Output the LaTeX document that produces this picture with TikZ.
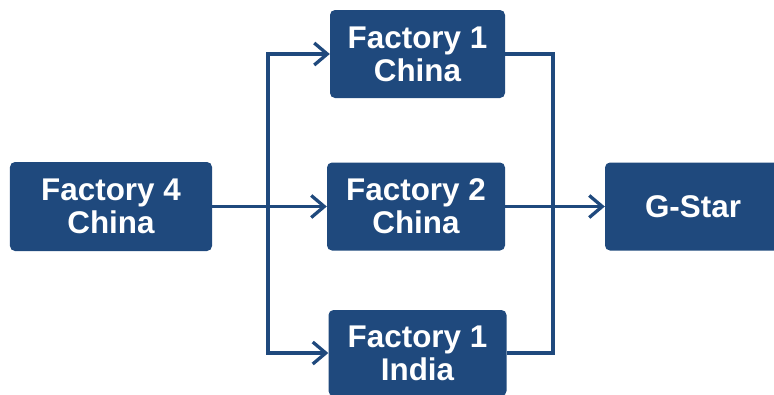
\documentclass[tikz,border=0pt]{standalone}
\usepackage{fontspec}
\setmainfont{Liberation Sans}
\usetikzlibrary{arrows.meta}
\definecolor{boxblue}{RGB}{31,73,125}
\begin{document}
\begin{tikzpicture}[x=1bp,y=-1bp,
  fbox/.style={fill=boxblue, draw=none, rounded corners=5bp, text=white,
    font=\bfseries\fontsize{31.5}{33}\selectfont, align=center, inner sep=0pt},
  conn/.style={draw=boxblue, line width=3.3bp},
  arr/.style={conn, -{Straight Barb[length=13bp,width=22bp]}}]
\useasboundingbox (0,0) rectangle (774,394);
\node[fbox, minimum width=202bp, minimum height=89bp] (f4) at (111,206.5) {Factory 4\\China};
\node[fbox, minimum width=175bp, minimum height=88bp] (f1c) at (417.5,54) {Factory 1\\China};
\node[fbox, minimum width=178bp, minimum height=88bp] (f2c) at (416,206.5) {Factory 2\\China};
\node[fbox, minimum width=178bp, minimum height=86bp] (f1i) at (417.5,353) {Factory 1\\India};
\node[fbox, minimum width=176bp, minimum height=88bp] (gs) at (693,206.5) {G-Star};
\coordinate (jl) at (268,206.5);
\coordinate (jr) at (553,206.5);
\draw[arr] (f4.east) -- (f2c.west);
\draw[arr] (jl) |- (f1c.west);
\draw[arr] (jl) |- (f1i.west);
\draw[conn] (f1c.east) -| (jr) |- (f1i.east);
\draw[arr] (f2c.east) -- (gs.west);
\end{tikzpicture}
\end{document}
